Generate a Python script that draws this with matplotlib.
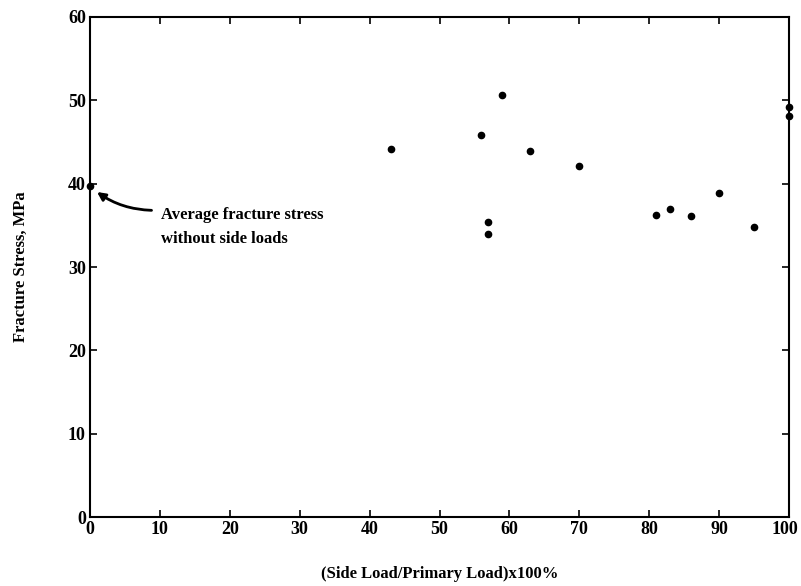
import matplotlib.pyplot as plt
import matplotlib.transforms as mtransforms

plt.rcParams['font.family'] = 'Liberation Serif'
plt.rcParams['font.weight'] = 'bold'
plt.rcParams['axes.labelweight'] = 'bold'

# side load ratio (%) and fracture stress (MPa)
side_load = [43, 56, 59, 63, 70, 57, 57, 81, 83, 86, 90, 95, 100, 100]
stress = [44.2, 45.9, 50.6, 43.9, 42.1, 35.4, 34.0, 36.3, 37.0, 36.1, 38.9, 34.8, 49.2, 48.1]
avg_no_side = 39.7

xticks = [0, 10, 20, 30, 40, 50, 60, 70, 80, 90, 100]
yticks = [0, 10, 20, 30, 40, 50, 60]

fig = plt.figure(figsize=(8.01, 5.86), dpi=100)
ax = fig.add_axes([0.1124, 0.1177, 0.8726, 0.8533])

ax.plot(side_load, stress, 'o', color='black', markersize=4.5, clip_on=False)
ax.plot([0], [avg_no_side], 'o', color='black', markersize=4.5, clip_on=False)

ax.set_xlim(0, 100)
ax.set_ylim(0, 60)
ax.set_xticks(xticks)
ax.set_yticks(yticks)
ax.tick_params(direction='in', length=5, width=1.2, labelsize=13, top=True, right=True, pad=3)
for s in ax.spines.values():
    s.set_linewidth(1.5)

# keep "100" inside the picture
lab = ax.get_xticklabels()[-1]
lab.set_transform(lab.get_transform() + mtransforms.ScaledTranslation(-3 / 72, 0, fig.dpi_scale_trans))

ax.set_xlabel('(Side Load/Primary Load)x100%', fontsize=12, labelpad=20)
ax.set_ylabel('Fracture Stress, MPa', fontsize=12, labelpad=28)

ax.text(10.2, 34.8, 'Average fracture stress\nwithout side loads', fontsize=12,
        ha='left', va='center', linespacing=1.6)
ax.annotate('', xy=(1.0, 39.0), xytext=(8.8, 36.8),
            arrowprops=dict(arrowstyle='-|>', color='black', lw=2, mutation_scale=12,
                            shrinkA=0, shrinkB=0, connectionstyle='arc3,rad=-0.15'))

fig.savefig('out.png', dpi=100)
